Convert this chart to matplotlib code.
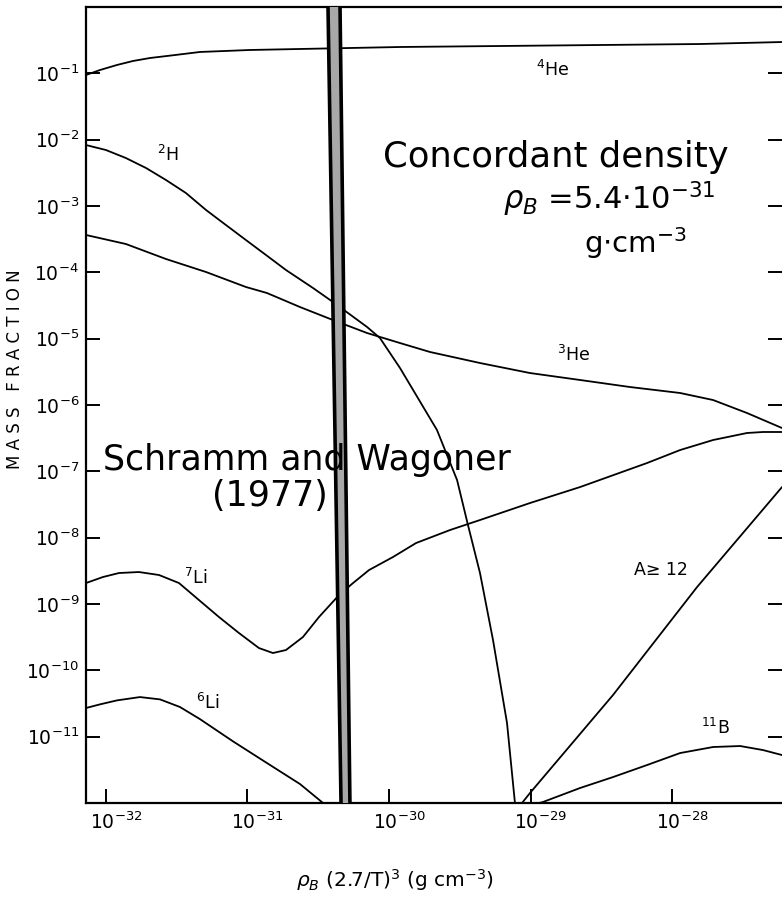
import numpy as np
import matplotlib
matplotlib.use("Agg")
import matplotlib.pyplot as plt
from matplotlib.transforms import ScaledTranslation

plt.rcParams['font.family'] = ['DejaVu Sans']
plt.rcParams['axes.unicode_minus'] = False
plt.rcParams['mathtext.fontset'] = 'dejavusans'

# ---- data (log10 values) ----
he4_logx = [-32.141, -32.042, -31.922, -31.809, -31.689, -31.512, -31.336, -30.982,
            -30.629, -29.922, -29.216, -28.509, -27.802, -27.223]
he4_logy = [-1.025, -0.950, -0.874, -0.814, -0.769, -0.724, -0.678, -0.648,
            -0.633, -0.603, -0.588, -0.573, -0.558, -0.528]

h2_logx = [-32.141, -32.000, -31.859, -31.717, -31.576, -31.435, -31.293, -31.152,
           -31.011, -30.869, -30.728, -30.537, -30.396, -30.155, -30.064, -29.922,
           -29.661, -29.519, -29.442, -29.357, -29.265, -29.166, -29.110]
h2_logy = [-2.081, -2.156, -2.277, -2.427, -2.608, -2.804, -3.060, -3.287,
           -3.513, -3.739, -3.965, -4.236, -4.447, -4.824, -4.990, -5.443,
           -6.377, -7.131, -7.809, -8.533, -9.543, -10.795, -12.0]

he3_logx = [-32.141, -31.859, -31.576, -31.293, -31.011, -30.862, -30.629, -30.396,
            -30.155, -29.922, -29.710, -29.357, -29.004, -28.650, -28.297, -27.943,
            -27.710, -27.470, -27.223]
he3_logy = [-3.437, -3.573, -3.799, -3.995, -4.221, -4.312, -4.523, -4.719,
            -4.915, -5.066, -5.201, -5.367, -5.518, -5.623, -5.729, -5.819,
            -5.925, -6.121, -6.347]

li7_logx = [-32.141, -32.021, -31.908, -31.767, -31.625, -31.484, -31.343, -31.201,
            -31.060, -30.919, -30.820, -30.728, -30.608, -30.495, -30.353, -30.254,
            -30.141, -29.972, -29.809, -29.569, -29.357, -29.004, -28.650, -28.177,
            -27.943, -27.710, -27.470, -27.357, -27.223]
li7_logy = [-8.684, -8.593, -8.533, -8.518, -8.563, -8.684, -8.940, -9.197,
            -9.438, -9.664, -9.739, -9.694, -9.498, -9.197, -8.865, -8.684,
            -8.488, -8.292, -8.081, -7.885, -7.734, -7.478, -7.237, -6.875,
            -6.679, -6.528, -6.422, -6.407, -6.407]

li6_logx = [-32.141, -32.042, -31.922, -31.760, -31.618, -31.477, -31.336, -31.102,
            -30.862, -30.629, -30.466]
li6_logy = [-10.568, -10.513, -10.453, -10.403, -10.438, -10.553, -10.735, -11.071,
            -11.398, -11.714, -12.0]

a12_logx = [-29.060, -29.004, -28.417, -27.823, -27.223]
a12_logy = [-12.0, -11.850, -10.372, -8.744, -7.237]

b11_logx = [-28.940, -28.912, -28.650, -28.417, -28.177, -27.943, -27.710, -27.519,
            -27.357, -27.223]
b11_logy = [-12.0, -11.985, -11.774, -11.609, -11.428, -11.247, -11.156, -11.141,
            -11.202, -11.277]

# Schramm & Wagoner concordant band: log10 x of its edges at the top and bottom
band_left_logx = [-30.431, -30.339]
band_right_logx = [-30.346, -30.276]

x_ticks_exp = [-32, -31, -30, -29, -28]
y_ticks_exp = [-1, -2, -3, -4, -5, -6, -7, -8, -9, -10, -11]

# ---- figure ----
fig = plt.figure(figsize=(7.82, 9.11), dpi=100)
ax = fig.add_axes([86/782, 1 - 803/911, 696/782, 796/911])
ax.set_xscale('log')
ax.set_yscale('log')
ax.set_xlim(10**-32.141, 10**-27.223)
ax.set_ylim(1e-12, 1.0)

lw = 1.3
series = [(he4_logx, he4_logy), (h2_logx, h2_logy), (he3_logx, he3_logy),
          (li7_logx, li7_logy), (li6_logx, li6_logy), (a12_logx, a12_logy),
          (b11_logx, b11_logy)]
for lx, ly in series:
    ax.plot(10**np.array(lx), 10**np.array(ly), color='black', lw=lw,
            solid_joinstyle='round', solid_capstyle='round')

# band (polygon in data coordinates)
ytop, ybot = 1.0, 1e-12
bx = 10**np.array([band_left_logx[0], band_right_logx[0], band_right_logx[1], band_left_logx[1]])
by = [ytop, ytop, ybot, ybot]
ax.fill(bx, by, facecolor='#a8a8a8', edgecolor='none', zorder=3)
ax.plot(10**np.array(band_left_logx), [ytop, ybot], color='black', lw=2.6, zorder=4)
ax.plot(10**np.array(band_right_logx), [ytop, ybot], color='black', lw=2.6, zorder=4)

# ticks
ax.set_xticks([10.0**e for e in x_ticks_exp])
ax.set_xticklabels(['10$^{%d}$' % e for e in x_ticks_exp])
ax.set_yticks([10.0**e for e in y_ticks_exp])
ax.set_yticklabels(['10$^{%d}$' % e for e in y_ticks_exp])
ax.minorticks_off()
ax.tick_params(axis='both', which='major', direction='in', length=10, width=1.4,
               labelsize=13.5, colors='black')
ax.tick_params(axis='y', right=True, pad=5)
ax.tick_params(axis='x', pad=3)
for lab in ax.get_xticklabels():
    lab.set_transform(lab.get_transform() + ScaledTranslation(10/100, -4/100, fig.dpi_scale_trans))

for side in ['left', 'bottom', 'top']:
    ax.spines[side].set_linewidth(1.6)
ax.spines['right'].set_visible(False)

# curve labels
lab_kw = dict(transform=ax.transAxes, ha='center', va='center', fontsize=12.5)
ax.text(0.670, 0.921, r'$^{4}$He', **lab_kw)
ax.text(0.118, 0.814, r'$^{2}$H', **lab_kw)
ax.text(0.700, 0.563, r'$^{3}$He', **lab_kw)
ax.text(0.157, 0.283, r'$^{7}$Li', **lab_kw)
ax.text(0.175, 0.126, r'$^{6}$Li', **lab_kw)
ax.text(0.826, 0.293, 'A\u2265 12', **lab_kw)
ax.text(0.905, 0.094, r'$^{11}$B', **lab_kw)

# annotations
ax.text(0.675, 0.812, 'Concordant density', transform=ax.transAxes,
        ha='center', va='center', fontsize=25.5)
ax.text(0.752, 0.7585, r'$\rho_B$ =5.4$\cdot$10$^{-31}$', transform=ax.transAxes,
        ha='center', va='center', fontsize=22)
ax.text(0.790, 0.704, r'g$\cdot$cm$^{-3}$', transform=ax.transAxes,
        ha='center', va='center', fontsize=21)
ax.text(0.024, 0.431, 'Schramm and Wagoner', transform=ax.transAxes,
        ha='left', va='center', fontsize=25)
ax.text(0.264, 0.386, '(1977)', transform=ax.transAxes,
        ha='center', va='center', fontsize=25)

# axis labels
fig.text(0.505, 0.034, r'$\rho_B$ (2.7/T)$^3$ (g cm$^{-3}$)', ha='center', va='center',
         fontsize=14.5)
fig.text(0.019, 0.595, 'M A S S   F R A C T I O N', rotation=90, ha='center', va='center',
         fontsize=12)

fig.savefig('out.png', dpi=100)
